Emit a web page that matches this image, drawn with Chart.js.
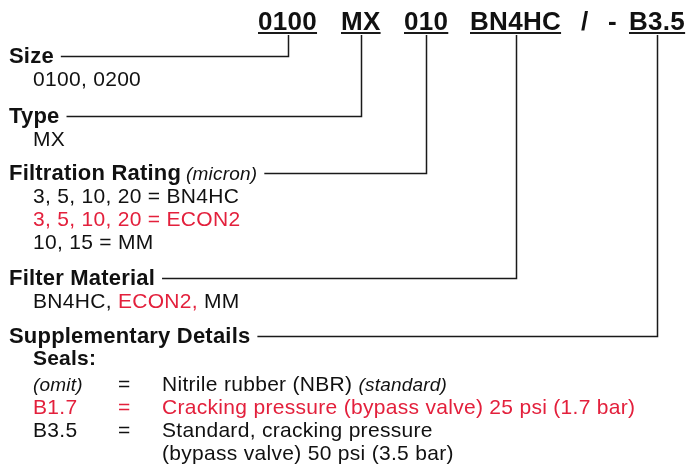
<!DOCTYPE html>
<html><head><meta charset="utf-8">
<script src="https://cdn.jsdelivr.net/npm/chart.js@4/dist/chart.umd.min.js"></script>
<style>html,body{margin:0;padding:0;background:#fff}canvas{display:block}</style>
</head><body>
<canvas id="c" width="689" height="466"></canvas>
<script>
// ---- content ----
const codeSegments   = ['0100', 'MX', '010', 'BN4HC', '/', '-', 'B3.5'];
const codeUnderlined = [true, true, true, true, false, false, true];
const headings       = ['Size', 'Type', 'Filtration Rating', 'Filter Material', 'Supplementary Details'];
const headingNotes   = ['', '', '(micron)', '', ''];
const headingTargets = [0, 1, 2, 3, 6];   // index into codeSegments
// rich text runs: [text, style]  n=normal, r=red, i=italic note, b=bold
const sizeLines      = [[['0100, 0200', 'n']]];
const typeLines      = [[['MX', 'n']]];
const ratingLines    = [[['3, 5, 10, 20 = BN4HC', 'n']], [['3, 5, 10, 20 = ECON2', 'r']], [['10, 15 = MM', 'n']]];
const materialLines  = [[['BN4HC, ', 'n'], ['ECON2,', 'r'], [' MM', 'n']]];
const sealsTitle     = 'Seals:';
const sealCodes      = ['(omit)', 'B1.7', 'B3.5', ''];
const sealEquals     = ['=', '=', '=', ''];
const sealDescs      = [[['Nitrile rubber (NBR) ', 'n'], ['(standard)', 'i']],
                        [['Cracking pressure (bypass valve) 25 psi (1.7 bar)', 'r']],
                        [['Standard, cracking pressure', 'n']],
                        [['(bypass valve) 50 psi (3.5 bar)', 'n']]];
const sealCodeStyles = ['i', 'r', 'n', 'n'];
const sealRowStyles  = ['n', 'r', 'n', 'n'];

// ---- layout / style ----
const W = 689, H = 466;
const FAM = '"Liberation Sans", Arial, Helvetica, sans-serif';
const FONTS = {
  code: 'bold 26px ' + FAM,
  head: 'bold 22px ' + FAM,
  n: '21px ' + FAM,
  r: '21px ' + FAM,
  b: 'bold 21px ' + FAM,
  i: 'italic 19px ' + FAM
};
const SPACING = { code: '0.3px', head: '0.2px', n: '0.3px', r: '0.3px', b: '0.2px', i: '0.2px' };
const COLORS = { n: '#111111', r: '#e3203c', i: '#111111', b: '#111111', line: '#1a1a1a' };
const L = {
  codeBaseline: 30, underlineY: 33, codeX: [258, 341, 404, 470, 581, 608, 629],
  headX: 9, bodyX: 33, headBaselines: [63, 123, 180, 285, 343],
  bodyStart: [86, 146, 203, 308], bodyStep: 23,
  sealsTitleY: 365, sealRows: [391, 414, 437, 460], sealCols: [33, 118, 162],
  noteGap: 5, lineGap: 7, lineAbove: 6.5
};

function setFont(ctx, st) {
  ctx.font = FONTS[st];
  if ('letterSpacing' in ctx) ctx.letterSpacing = SPACING[st];
}
const mctx = document.createElement('canvas').getContext('2d');
function measure(text, st) { setFont(mctx, st); return mctx.measureText(text).width; }

// connector lines and underlines as datasets
const datasets = [];
codeSegments.forEach((s, i) => {
  if (!codeUnderlined[i]) return;
  const w = measure(s, 'code');
  datasets.push({ data: [{x: L.codeX[i], y: L.underlineY}, {x: L.codeX[i] + w, y: L.underlineY}], borderWidth: 2 });
});
headings.forEach((h, k) => {
  let endX = L.headX + measure(h, 'head');
  if (headingNotes[k]) endX += L.noteGap + measure(headingNotes[k], 'i');
  const seg = headingTargets[k];
  const cx = Math.round(L.codeX[seg] + measure(codeSegments[seg], 'code') / 2) + 0.5;
  const y = L.headBaselines[k] - L.lineAbove;
  datasets.push({ data: [{x: endX + L.lineGap, y: y}, {x: cx, y: y}, {x: cx, y: L.underlineY + 2}], borderWidth: 1.5 });
});
datasets.forEach(d => Object.assign(d, { showLine: true, pointRadius: 0, borderColor: COLORS.line, fill: false, tension: 0, borderJoinStyle: 'miter' }));

function drawRuns(ctx, runs, x, y) {
  runs.forEach(([t, st]) => {
    setFont(ctx, st); ctx.fillStyle = COLORS[st];
    ctx.fillText(t, x, y);
    x += ctx.measureText(t).width;
  });
}

const textPlugin = {
  id: 'diagramText',
  afterDatasetsDraw(chart) {
    const ctx = chart.ctx, sx = chart.scales.x, sy = chart.scales.y;
    const px = v => sx.getPixelForValue(v), py = v => sy.getPixelForValue(v);
    ctx.save();
    ctx.textBaseline = 'alphabetic'; ctx.textAlign = 'left';
    codeSegments.forEach((s, i) => {
      setFont(ctx, 'code'); ctx.fillStyle = COLORS.n;
      ctx.fillText(s, px(L.codeX[i]), py(L.codeBaseline));
    });
    headings.forEach((h, k) => {
      setFont(ctx, 'head'); ctx.fillStyle = COLORS.n;
      const yb = py(L.headBaselines[k]);
      ctx.fillText(h, px(L.headX), yb);
      if (headingNotes[k]) {
        const w = ctx.measureText(h).width;
        setFont(ctx, 'i');
        ctx.fillText(headingNotes[k], px(L.headX) + w + L.noteGap, yb);
      }
    });
    [sizeLines, typeLines, ratingLines, materialLines].forEach((block, k) => {
      block.forEach((runs, j) => drawRuns(ctx, runs, px(L.bodyX), py(L.bodyStart[k] + j * L.bodyStep)));
    });
    drawRuns(ctx, [[sealsTitle, 'b']], px(L.bodyX), py(L.sealsTitleY));
    sealCodes.forEach((c, r) => {
      const y = py(L.sealRows[r]);
      if (c) drawRuns(ctx, [[c, sealCodeStyles[r]]], px(L.sealCols[0]), y);
      if (sealEquals[r]) drawRuns(ctx, [[sealEquals[r], sealRowStyles[r]]], px(L.sealCols[1]), y);
      drawRuns(ctx, sealDescs[r], px(L.sealCols[2]), y);
    });
    ctx.restore();
  }
};

new Chart(document.getElementById('c'), {
  type: 'scatter',
  data: { datasets },
  options: {
    responsive: false, animation: false, devicePixelRatio: 1,
    layout: { padding: 0 },
    plugins: { legend: { display: false }, tooltip: { enabled: false } },
    scales: {
      x: { type: 'linear', min: 0, max: W, display: false },
      y: { type: 'linear', min: 0, max: H, reverse: true, display: false }
    }
  },
  plugins: [textPlugin]
});
</script>
</body></html>
